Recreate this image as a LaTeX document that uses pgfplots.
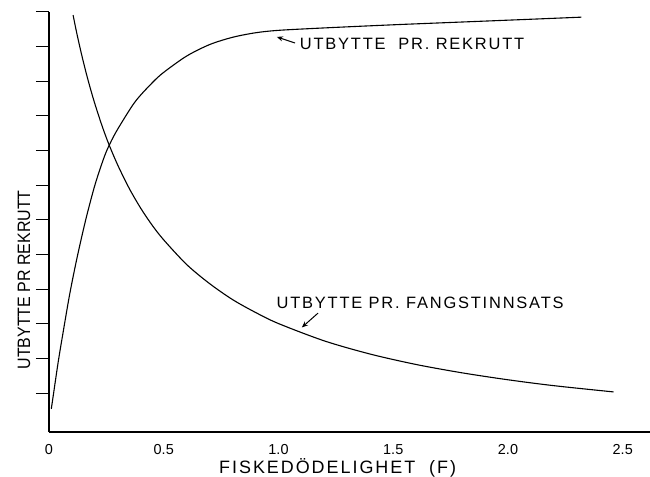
\documentclass[border=0pt]{standalone}
\usepackage{fontspec}
\setmainfont{Liberation Sans}
\newfontfamily\lett[LetterSpace=11]{Liberation Sans}
\usepackage{graphicx}
\usepackage{pgfplots}
\pgfplotsset{compat=1.18}
\usetikzlibrary{arrows.meta}
\begin{document}
\begin{tikzpicture}
\begin{axis}[
  x=229.5bp, y=34.7bp,
  xmin=0, xmax=2.62, ymin=-0.115, ymax=12,
  axis lines*=left,
  axis line style={line width=1.1bp},
  tick align=outside,
  major tick length=13bp,
  minor tick length=7bp,
  xtick={0,0.5,1,1.5,2,2.5},
  xticklabels={0,0.5,1.0,1.5,2.0,2.5},
  minor xtick={0.5,1,1.5,2,2.5},
  xtick style={draw=none},
  minor tick style={line width=0.8bp, black},
  ytick={1,2,...,12},
  yticklabels={},
  ytick style={line width=1bp, black},
  xticklabel style={font=\fontsize{14.5}{14.5}\selectfont, anchor=north, yshift=4bp},
  xlabel={\lett\fontsize{18}{18}\selectfont FISKEDÖDELIGHET\ \ (F)},
  xlabel style={at={(rel axis cs:0.48,0)}, anchor=center, yshift=-36bp},
  ylabel={\fontsize{18}{18}\selectfont\scalebox{0.89}[1]{UTBYTTE PR REKRUTT}},
  ylabel style={at={(rel axis cs:0,0.362)}, anchor=center, yshift=25bp},
]
% yield per recruit
\addplot[black, line width=1.1bp, smooth] coordinates {
(0.01,0.55) (0.02,1.0) (0.04,1.9) (0.06,2.7) (0.09,3.85) (0.122,4.9)
(0.16,6.0) (0.2,7.0) (0.24,7.8) (0.266,8.2) (0.3,8.62) (0.375,9.4)
(0.45,9.95) (0.5,10.25) (0.6,10.72) (0.7,11.05) (0.8,11.26) (0.9,11.39)
(1.0,11.46) (1.2,11.53) (1.5,11.62) (1.8,11.7) (2.1,11.78) (2.32,11.84)
};
% yield per unit effort
\addplot[black, line width=1.1bp, smooth] coordinates {
(0.105,11.9) (0.12,11.41) (0.14,10.82) (0.16,10.28) (0.18,9.79) (0.2,9.34)
(0.23,8.73) (0.26,8.19) (0.3,7.57) (0.35,6.9) (0.4,6.33) (0.45,5.84)
(0.5,5.42) (0.6,4.71) (0.7,4.16) (0.8,3.7) (0.9,3.33) (1.0,3.01)
(1.2,2.51) (1.4,2.13) (1.6,1.83) (1.8,1.59) (2.0,1.39) (2.2,1.22) (2.46,1.04)
};
\node[font=\lett\fontsize{16.5}{16.5}\selectfont] at (axis cs:1.582,11.07) {UTBYTTE\ \ PR. REKRUTT};
\node[font=\lett\fontsize{16.5}{16.5}\selectfont] at (axis cs:1.617,3.62) {UTBYTTE PR. FANGSTINNSATS};
\draw[line width=1bp, -{Stealth[length=6bp,width=5bp]}] (axis cs:1.072,11.095) -- (axis cs:0.993,11.27);
\draw[line width=1bp, -{Stealth[length=6bp,width=5bp]}] (axis cs:1.172,3.31) -- (axis cs:1.102,2.9);
\end{axis}
\pgfresetboundingbox
\path (-49bp,-45bp) rectangle (601bp,432bp);
\end{tikzpicture}
\end{document}
